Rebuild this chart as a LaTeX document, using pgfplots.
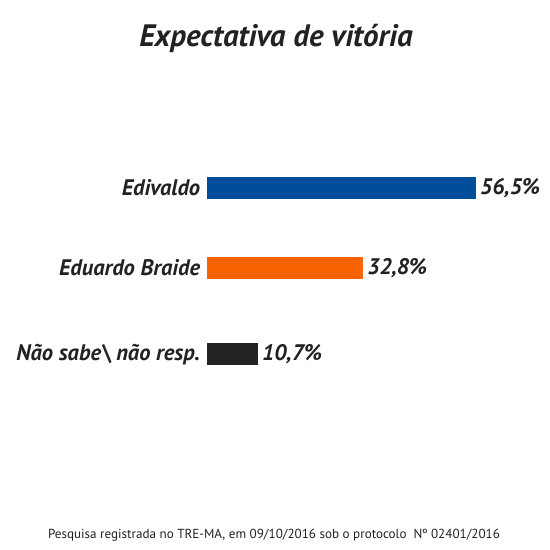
\documentclass[border=0pt]{standalone}
\usepackage{pgfplots}
\pgfplotsset{compat=1.18}
\usepackage{fontspec}
\setmainfont{PT Sans}
\definecolor{azul}{HTML}{004E9A}
\definecolor{laranja}{HTML}{F96400}
\definecolor{escuro}{HTML}{222222}
\definecolor{texto}{HTML}{222222}
\begin{document}
\begin{tikzpicture}
\fill[white] (0,0) rectangle (550bp,550bp);
\path[use as bounding box] (0,0) rectangle (550bp,550bp);
\begin{axis}[
  scale only axis, at={(207bp,0)}, anchor=south west,
  width=269bp, height=550bp,
  xmin=0, xmax=56.5, ymin=0, ymax=550,
  axis line style={draw=none}, tick style={draw=none},
  xtick=\empty,
  ytick={195.5,282,362},
  yticklabels={N\~ao sabe\textbackslash{} n\~ao resp., Eduardo Braide, Edivaldo},
  yticklabel style={font=\fontsize{22.5bp}{26bp}\selectfont\bfseries\itshape, text=texto, inner sep=2.5bp},
  xbar, bar width=22bp, bar shift=0pt,
  point meta=explicit symbolic,
  nodes near coords,
  nodes near coords style={font=\fontsize{22.5bp}{26bp}\selectfont\bfseries\itshape, text=texto, anchor=west, inner sep=4bp},
  clip=false,
]
\addplot[draw=none, fill=azul] coordinates {(56.5,362) [56,5\%]};
\addplot[draw=none, fill=laranja] coordinates {(32.8,282) [32,8\%]};
\addplot[draw=none, fill=escuro] coordinates {(10.7,195.5) [10,7\%]};
\end{axis}
\node[font=\fontsize{31bp}{36bp}\selectfont\bfseries\itshape, text=texto] at (276bp,512bp) {Expectativa de vitória};
\node[font=\fontsize{13.1bp}{16bp}\selectfont, text=texto] at (274bp,15bp) {Pesquisa registrada no TRE-MA, em 09/10/2016 sob o protocolo~~Nº 02401/2016};
\end{tikzpicture}
\end{document}
